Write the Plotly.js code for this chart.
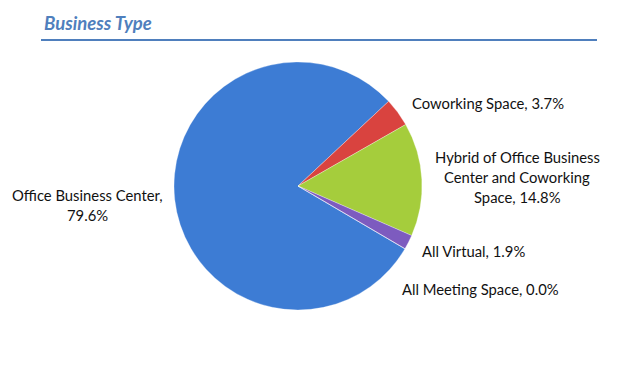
<!DOCTYPE html>
<html>
<head>
<meta charset="utf-8">
<script src="https://cdn.plot.ly/plotly-3.0.1.min.js"></script>
<style>
html,body{margin:0;padding:0;background:#fff;}
#chart{width:624px;height:384px;}
</style>
</head>
<body>
<div id="chart"></div>
<script>
// ---- data ----
var categories = ["Office Business Center", "Coworking Space", "Hybrid of Office Business Center and Coworking Space", "All Virtual", "All Meeting Space"];
var shares = [79.6, 3.7, 14.8, 1.9, 0.0];
var sliceColors = ["#3d7cd4", "#d9433f", "#a5cd3c", "#7d5bbf", "#4bacc6"];
var chartTitle = "Business Type";

// ---- label layout (pixel positions of label centers, wrap widths) ----
var labelPos = [[87, 205], [488, 103], [517, 177], [473, 251], [480, 289]];
var labelWrap = [23, 99, 25, 99, 99];

var W = 624, H = 384;
var cx = 298, cy = 186, r = 124;

function wrap(text, maxChars) {
  var words = text.split(" "), lines = [], cur = "";
  words.forEach(function (w) {
    if (cur === "") cur = w;
    else if ((cur + " " + w).length <= maxChars) cur += " " + w;
    else { lines.push(cur); cur = w; }
  });
  if (cur) lines.push(cur);
  return lines;
}

var annotations = [];
var lineH = 20;
categories.forEach(function (c, i) {
  var lines = wrap(c + ", " + shares[i].toFixed(1) + "%", labelWrap[i]);
  var n = lines.length;
  lines.forEach(function (ln, k) {
    var y = labelPos[i][1] + (k - (n - 1) / 2) * lineH;
    annotations.push({
      xref: "paper", yref: "paper",
      x: labelPos[i][0] / W, y: 1 - y / H,
      xanchor: "center", yanchor: "middle",
      text: ln, showarrow: false,
      font: {family: "Lato, 'Open Sans', sans-serif", size: 14.8, color: "#111"}
    });
  });
});

annotations.push({
  xref: "paper", yref: "paper", x: 42 / W, y: 1 - 23 / H,
  xanchor: "left", yanchor: "middle", showarrow: false,
  text: "<b><i>" + chartTitle + "</i></b>",
  font: {family: "Lato, 'Open Sans', sans-serif", size: 18.5, color: "#4f7fbd"}
});

var trace = {
  type: "pie",
  labels: categories,
  values: shares,
  sort: false,
  direction: "clockwise",
  rotation: 120.4,
  textinfo: "none",
  hoverinfo: "label+percent",
  marker: {colors: sliceColors, line: {color: "rgba(255,255,255,0.5)", width: 0.6}},
  domain: {x: [(cx - r) / W, (cx + r) / W], y: [1 - (cy + r) / H, 1 - (cy - r) / H]},
  showlegend: false
};

var layout = {
  width: W, height: H,
  margin: {l: 0, r: 0, t: 0, b: 0},
  paper_bgcolor: "#ffffff",
  showlegend: false,
  annotations: annotations,
  shapes: [{
    type: "line", xref: "paper", yref: "paper",
    x0: 41 / W, x1: 597 / W, y0: 1 - 40 / H, y1: 1 - 40 / H,
    line: {color: "#4f7fbd", width: 2}
  }]
};

Plotly.newPlot("chart", [trace], layout, {displayModeBar: false, staticPlot: true});
</script>
</body>
</html>
